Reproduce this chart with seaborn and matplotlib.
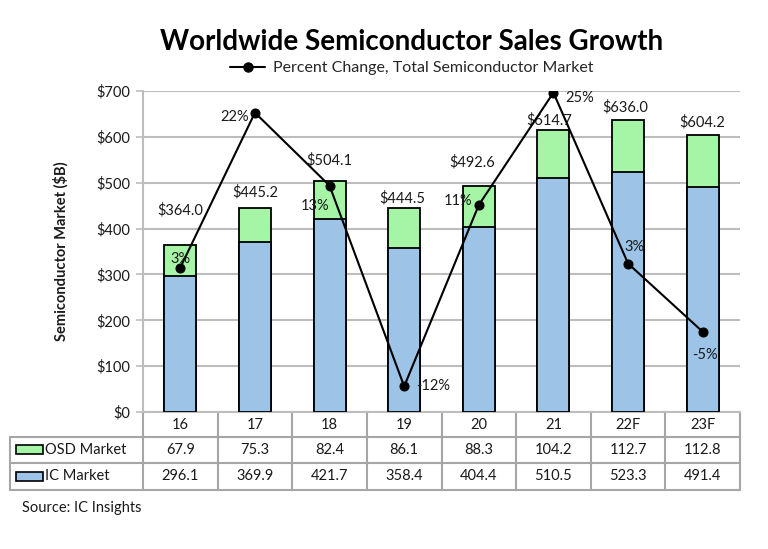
import numpy as np
import pandas as pd
import matplotlib
matplotlib.use("Agg")
import matplotlib.pyplot as plt
import seaborn as sns
from matplotlib.lines import Line2D
from matplotlib.patches import Rectangle
from matplotlib.transforms import blended_transform_factory

# ---- data ----
years = ["16", "17", "18", "19", "20", "21", "22F", "23F"]
osd_market = [67.9, 75.3, 82.4, 86.1, 88.3, 104.2, 112.7, 112.8]
ic_market = [296.1, 369.9, 421.7, 358.4, 404.4, 510.5, 523.3, 491.4]
total_market = [364.0, 445.2, 504.1, 444.5, 492.6, 614.7, 636.0, 604.2]
pct_change = [3.0, 22.3, 13.2, -11.8, 10.8, 24.8, 3.5, -5.0]
pct_labels = ["3%", "22%", "13%", "-12%", "11%", "25%", "3%", "-5%"]
ytick_vals = [0, 100, 200, 300, 400, 500, 600, 700]

# label placement offsets (pixels)
total_offsets = [(0, 35), (0, 16), (0, 21), (-2, 10), (-7, 24), (-4, 10), (-3, 13), (0, 13)]
pct_offsets = [(0, 9), (-20, -4), (-14, -20), (29, 0), (-21, 4), (26, -5), (6, 17), (2, -23)]

df = pd.DataFrame({"year": years, "osd": osd_market, "ic": ic_market,
                   "total": total_market})

sns.set_theme(style="white")
plt.rcParams["font.family"] = ["Lato", "DejaVu Sans"]

BLUE = "#9DC3E6"
GREEN = "#A6F5A6"
GRID = "#BDBDBD"
TXT = "#1A1A1A"

fig = plt.figure(figsize=(7.68, 5.49), dpi=100)
ax = fig.add_axes([143 / 768, 1 - 412 / 549, 597 / 768, 321 / 549])

sns.barplot(data=df, x="year", y="total", color=GREEN, edgecolor="black",
            linewidth=1.3, width=0.43, saturation=1, ax=ax, zorder=2)
sns.barplot(data=df, x="year", y="ic", color=BLUE, edgecolor="black",
            linewidth=1.3, width=0.43, saturation=1, ax=ax, zorder=3)

ax.set_xlim(-0.5, len(years) - 0.5)
ax.set_ylim(0, 700)
ax.set_yticks(ytick_vals)
ax.set_yticklabels([f"${v}" for v in ytick_vals], fontsize=10.5, color=TXT)
ax.yaxis.grid(True, color=GRID, linewidth=1.5)
ax.set_axisbelow(True)
ax.set_xlabel("")
ax.set_ylabel("Semiconductor Market ($B)", fontsize=10.5, fontweight="bold",
              color=TXT, labelpad=20)
ax.tick_params(axis="y", length=5, color=GRID, width=1.2, pad=4)
ax.tick_params(axis="x", length=0, pad=4, labelsize=10.5, labelcolor=TXT)
for s in ["top", "right"]:
    ax.spines[s].set_visible(False)
ax.spines["left"].set_color(GRID)
ax.spines["left"].set_linewidth(1.5)
ax.spines["bottom"].set_color(GRID)
ax.spines["bottom"].set_linewidth(1.5)

# total labels
for i, t in enumerate(total_market):
    dx, dy = total_offsets[i]
    ax.annotate(f"${t:.1f}", (i, t), xytext=(dx, dy), textcoords="offset pixels",
                ha="center", va="center", fontsize=10.5, color=TXT, zorder=5)

# percent change line
ax2 = ax.twinx()
sns.lineplot(x=np.arange(len(years)), y=pct_change, ax=ax2, color="black",
             linewidth=1.5, marker="o", markersize=6.5, markeredgecolor="black",
             legend=False)
ax2.set_ylim(-15, 25)
ax2.set_yticks([])
ax2.set_ylabel("")
for s in ax2.spines.values():
    s.set_visible(False)
for i, p in enumerate(pct_change):
    dx, dy = pct_offsets[i]
    ax2.annotate(pct_labels[i], (i, p), xytext=(dx, dy), textcoords="offset pixels",
                 ha="center", va="center", fontsize=10.5, color=TXT)

# data table
trans = blended_transform_factory(ax.transData, ax.transAxes)
r = [0, -25 / 321, -51 / 321, -78 / 321]
n = len(years)
lab_left = -0.5 - 133 * (n / 597)
tab_kw = dict(color="#A6A6A6", linewidth=1.5, transform=trans, clip_on=False)
for yy in r[1:]:
    ax.add_line(Line2D([lab_left, n - 0.5], [yy, yy], **tab_kw))
for xx in np.arange(-0.5, n, 1.0):
    ax.add_line(Line2D([xx, xx], [r[0], r[3]], **tab_kw))
ax.add_line(Line2D([lab_left, lab_left], [r[1], r[3]], **tab_kw))

for i in range(n):
    ax.text(i, (r[1] + r[2]) / 2, f"{osd_market[i]:.1f}", transform=trans,
            ha="center", va="center", fontsize=10.5, color=TXT)
    ax.text(i, (r[2] + r[3]) / 2, f"{ic_market[i]:.1f}", transform=trans,
            ha="center", va="center", fontsize=10.5, color=TXT)

row_names = ["OSD Market", "IC Market"]
row_colors = [GREEN, BLUE]
for k in range(2):
    yc = (r[k + 1] + r[k + 2]) / 2
    ax.add_patch(Rectangle((lab_left + 6 * n / 597, yc - 4 / 321), 27 * n / 597, 9 / 321,
                           facecolor=row_colors[k], edgecolor="black", linewidth=1.2,
                           transform=trans, clip_on=False))
    ax.text(lab_left + 35 * n / 597, yc, row_names[k], transform=trans,
            ha="left", va="center", fontsize=10.5, color=TXT)

# title, legend, source
fig.text(412 / 768, 1 - 42 / 549, "Worldwide Semiconductor Sales Growth",
         ha="center", va="center", fontsize=20, fontweight="bold", color="black")
handle = Line2D([], [], color="black", linewidth=1.5, marker="o", markersize=6.5)
fig.legend([handle], ["Percent Change, Total Semiconductor Market"],
           loc="center", bbox_to_anchor=(412 / 768, 1 - 68 / 549), frameon=False,
           fontsize=11.5, handlelength=2.2, handletextpad=0.5, borderpad=0)
fig.text(22 / 768, 1 - 508 / 549, "Source: IC Insights", ha="left", va="center",
         fontsize=10.5, color=TXT)

fig.savefig("out.png", dpi=100, facecolor="white")
